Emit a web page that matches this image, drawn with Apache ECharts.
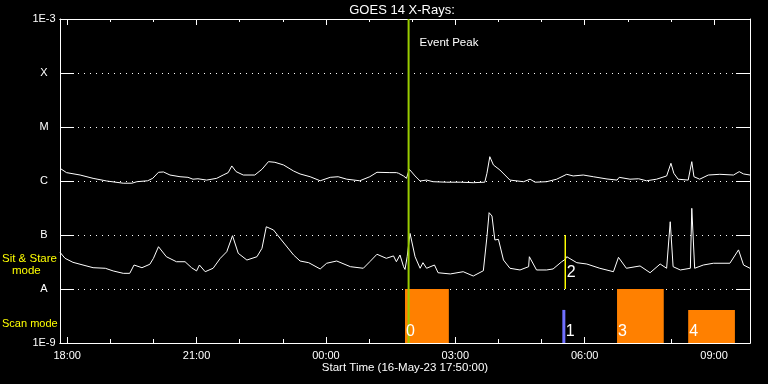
<!DOCTYPE html>
<html><head><meta charset="utf-8">
<script src="https://cdn.jsdelivr.net/npm/echarts@6/dist/echarts.min.js"></script>
<style>html,body{margin:0;padding:0;background:#000}#c{width:768px;height:384px}</style>
</head><body><div id="c"></div>
<script>
// ---- data ----
const chartTitle = 'GOES 14 X-Rays:';
const startLabel = 'Start Time (16-May-23 17:50:00)';
const axisStart = '17:50';
const axisEnd = '09:50';
const xLabelTimes = ['18:00','21:00','00:00','03:00','06:00','09:00'];
const xHourTicks = ['18:00','19:00','20:00','21:00','22:00','23:00','00:00','01:00','02:00','03:00','04:00','05:00','06:00','07:00','08:00','09:00'];
const yTickLabels = ['1E-9','A','B','C','M','X','1E-3'];
const yMinExp = -9, yMaxExp = -3;

// GOES long channel (x 1e-6 W/m^2)
const longTimes = ['17:50','17:59','18:18','18:36','18:55','19:18','19:30','19:37','19:52','19:59','20:07','20:14','20:23','20:37','20:48','20:55','21:02','21:14','21:28','21:37','21:44','21:49','21:55','22:05','22:21','22:31','22:40','22:49','23:01','23:15','23:24','23:38','23:52','00:06','00:17','00:29','00:47','01:01','01:11','01:29','01:38','01:41','01:48','01:52','01:56','02:04','02:11','02:20','02:29','02:48','03:07','03:25','03:41','03:44','03:48','03:53','04:02','04:16','04:35','04:44','04:51','05:07','05:21','05:35','05:44','05:58','06:12','06:31','06:45','06:48','07:03','07:15','07:26','07:40','07:54','08:00','08:04','08:10','08:24','08:29','08:32','08:40','08:52','09:08','09:27','09:35','09:41','09:50'];
const longFlux = [1.72,1.43,1.29,1.12,1.00,0.91,0.91,0.97,1.01,1.12,1.45,1.47,1.29,1.20,1.17,1.08,1.10,1.04,1.12,1.29,1.43,1.90,1.49,1.29,1.29,1.65,2.28,2.22,1.98,1.53,1.35,1.20,1.01,1.17,1.20,1.08,1.01,1.20,1.45,1.43,1.43,1.39,1.24,1.12,1.65,1.24,1.00,1.04,0.97,0.95,0.95,0.93,0.95,1.39,2.82,1.98,1.60,1.04,0.97,1.08,0.95,0.97,1.08,1.33,1.24,1.29,1.20,1.09,1.04,1.17,1.08,1.10,1.01,1.08,1.24,2.13,1.39,1.08,1.04,2.28,1.20,1.08,1.29,1.33,1.29,1.49,1.35,1.29];

// GOES short channel (x 1e-8 W/m^2)
const shortTimes = ['17:50','17:57','18:08','18:22','18:36','18:53','19:04','19:18','19:27','19:33','19:44','19:55','20:00','20:07','20:18','20:32','20:44','20:53','21:00','21:04','21:12','21:23','21:33','21:42','21:50','21:58','22:10','22:24','22:31','22:37','22:47','22:58','23:15','23:24','23:36','23:52','00:01','00:15','00:34','00:52','01:01','01:11','01:24','01:34','01:38','01:43','01:48','01:50','01:53','01:57','02:04','02:11','02:15','02:20','02:31','02:36','02:53','03:11','03:25','03:39','03:44','03:47','03:51','03:55','04:00','04:07','04:16','04:30','04:42','04:43','04:53','05:07','05:16','05:28','05:33','05:35','05:49','06:03','06:21','06:40','06:47','06:58','07:17','07:31','07:45','07:54','07:59','08:03','08:13','08:27','08:29','08:33','08:45','08:59','09:22','09:34','09:41','09:50'];
const shortFlux = [4.78,3.70,3.12,2.78,2.48,2.42,2.16,1.95,1.95,2.78,2.48,2.87,3.70,6.07,3.96,3.20,3.20,2.48,2.16,2.78,2.09,2.42,3.70,4.90,9.70,4.58,3.44,3.96,5.67,14.2,12.4,8.10,4.26,3.30,3.07,2.35,3.00,3.30,2.59,2.42,3.20,4.40,3.70,4.10,3.20,4.26,2.59,2.30,3.96,10.7,3.96,2.42,3.07,2.42,2.78,2.00,1.90,2.09,1.74,2.18,9.30,25.9,22.5,8.10,8.30,3.44,2.42,2.25,2.59,3.96,2.25,2.25,2.35,3.20,3.55,3.96,3.07,2.90,2.42,2.09,3.86,2.42,2.67,2.00,2.90,2.42,17.6,2.59,2.25,2.42,31.2,2.42,2.78,3.00,3.00,5.30,2.78,2.42];

const eventPeakTime = '01:55';
const eventPeakText = 'Event Peak';
const scanLabels = ['0','3','4'];
const scanStart = ['01:50','06:45','08:24'];
const scanEnd = ['02:51','07:50','09:29'];
const scanTop = [1e-8,1e-8,4.1e-9];
const markerLabels = ['1'];
const markerTimes = ['05:31'];
const markerTop = [4.1e-9];
const sitStareLabels = ['2'];
const sitStareTimes = ['05:33'];
const sitStareLow = [1e-8];
const sitStareHigh = [1e-7];
const sitStareText = ['Sit & Stare','mode'];
const scanText = 'Scan mode';

// ---- helpers ----
function toMin(s){const p=s.split(':').map(Number);let v=p[0]*60+p[1];if(v<12*60)v+=1440;return v;}
function fmt(v){v=((Math.round(v)%1440)+1440)%1440;const h=Math.floor(v/60),m=v%60;return String(h).padStart(2,'0')+':'+String(m).padStart(2,'0');}
const yMin = Math.pow(10,yMinExp), yMax = Math.pow(10,yMaxExp);
const FONT = '"Liberation Sans", Arial, sans-serif';
const xMin = toMin(axisStart), xMax = toMin(axisEnd);

const longData = longTimes.map((t,i)=>[toMin(t), longFlux[i]*1e-6]);
const shortData = shortTimes.map((t,i)=>[toMin(t), shortFlux[i]*1e-8]);

function xAx(pos, ticks, len, labels){
  return {type:'value', position:pos, min:xMin, max:xMax, gridIndex:0,
    axisLine:{show:true, lineStyle:{color:'#fff', width:1}},
    axisTick:{show:true, inside:true, length:len, customValues:ticks.map(toMin), lineStyle:{color:'#fff', width:1}},
    axisLabel:{show:!!labels, customValues: labels ? labels.map(toMin) : undefined, color:'#fff', fontFamily:FONT, fontSize:11, margin:7, formatter:(v)=>fmt(v)},
    splitLine:{show:false}};
}

const chart = echarts.init(document.getElementById('c'), null, {renderer:'canvas'});
chart.setOption({
  backgroundColor:'#000',
  animation:false,
  grid:{left:60, right:18, top:19, bottom:41, containLabel:false, outerBoundsMode:'none'},
  xAxis:[
    xAx('bottom', xLabelTimes, 6, xLabelTimes),
    xAx('bottom', xHourTicks, 4, null),
    xAx('top', xLabelTimes, 6, null),
    xAx('top', xHourTicks, 3, null)
  ],
  yAxis:[
    {type:'log', logBase:10, min:yMin, max:yMax, interval:1, position:'left',
      axisLine:{show:true, lineStyle:{color:'#fff'}},
      axisTick:{show:true, inside:true, length:14, lineStyle:{color:'#fff'}},
      axisLabel:{color:'#fff', fontFamily:FONT, fontSize:11, align:'center', margin:16, showMinLabel:true, showMaxLabel:true,
        formatter:(v)=>yTickLabels[Math.round(Math.log10(v))-yMinExp]},
      splitLine:{show:true, lineStyle:{color:'#fff', width:1, type:[1,5]}}},
    {type:'log', logBase:10, min:yMin, max:yMax, interval:1, position:'right',
      axisLine:{show:true, lineStyle:{color:'#fff'}},
      axisTick:{show:true, inside:true, length:14, lineStyle:{color:'#fff'}},
      axisLabel:{show:false}, splitLine:{show:false}}
  ],
  series:[
    {type:'custom', xAxisIndex:0, yAxisIndex:0, z:2, silent:true,
      data: scanLabels.map((l,i)=>[toMin(scanStart[i]), toMin(scanEnd[i]), scanTop[i]]),
      renderItem:(params, api)=>{
        const p0 = api.coord([api.value(0), yMin]);
        const p1 = api.coord([api.value(1), api.value(2)]);
        return {type:'rect', shape:{x:p0[0], y:p1[1], width:p1[0]-p0[0], height:p0[1]-p1[1]}, style:{fill:'#ff8000'}};
      }},
    {type:'line', xAxisIndex:0, yAxisIndex:0, z:3, data:longData, showSymbol:false, symbol:'none',
      lineStyle:{color:'#fff', width:1}, silent:true},
    {type:'line', xAxisIndex:0, yAxisIndex:0, z:3, data:shortData, showSymbol:false, symbol:'none',
      lineStyle:{color:'#fff', width:1}, silent:true},
    {type:'custom', xAxisIndex:0, yAxisIndex:0, z:4, silent:true,
      data: markerTimes.map((t,i)=>[toMin(t), yMin, markerTop[i], 0]).concat(sitStareTimes.map((t,i)=>[toMin(t), sitStareLow[i], sitStareHigh[i], 1])),
      renderItem:(params, api)=>{
        const a = api.coord([api.value(0), api.value(1)]);
        const b = api.coord([api.value(0), api.value(2)]);
        const kind = api.value(3);
        return {type:'line', shape:{x1:a[0], y1:a[1], x2:b[0], y2:b[1]},
          style:{stroke: kind===0 ? '#7070ff' : '#ffff00', lineWidth: kind===0 ? 3 : 1.5}};
      }},
    {type:'custom', xAxisIndex:0, yAxisIndex:0, z:5, silent:true,
      data:[[toMin(eventPeakTime)]],
      renderItem:(params, api)=>{
        const a = api.coord([api.value(0), yMin]);
        const b = api.coord([api.value(0), yMax]);
        return {type:'group', children:[
          {type:'line', shape:{x1:a[0], y1:a[1], x2:b[0], y2:b[1]}, style:{stroke:'#99cc00', lineWidth:2}},
          {type:'text', x:b[0]+11, y:b[1]+24, style:{text:eventPeakText, fill:'#fff', font:'11.5px '+FONT, align:'left', verticalAlign:'middle'}}
        ]};
      }},
    {type:'custom', xAxisIndex:0, yAxisIndex:0, z:6, silent:true,
      data: scanLabels.map((l,i)=>[toMin(scanStart[i]), yMin, 1, 0])
        .concat(markerLabels.map((l,i)=>[toMin(markerTimes[i]), yMin, 2, 1]))
        .concat(sitStareLabels.map((l,i)=>[toMin(sitStareTimes[i]), sitStareLow[i], 1.5, 2])),
      renderItem:(params, api)=>{
        const idx = params.dataIndex;
        const txt = idx < scanLabels.length ? scanLabels[idx] : (idx < scanLabels.length+markerLabels.length ? markerLabels[idx-scanLabels.length] : sitStareLabels[idx-scanLabels.length-markerLabels.length]);
        const p = api.coord([api.value(0), api.value(1)]);
        const kind = api.value(3);
        const dy = kind===2 ? -16.5 : -11;
        return {type:'text', x:p[0]+api.value(2), y:p[1]+dy, style:{text:txt, fill:'#fff', font:'16px '+FONT, align:'left', verticalAlign:'middle'}};
      }}
  ],
  graphic:[
    {type:'text', x:402, y:10, style:{text:chartTitle, fill:'#fff', font:'13px '+FONT, align:'center', verticalAlign:'middle'}, z:100},
    {type:'text', x:405, y:368, style:{text:startLabel, fill:'#fff', font:'11.5px '+FONT, align:'center', verticalAlign:'middle'}, z:100},
    {type:'text', x:2, y:258.5, style:{text:sitStareText[0], fill:'#ffff00', font:'11.5px '+FONT, align:'left', verticalAlign:'middle'}, z:100},
    {type:'text', x:12, y:271, style:{text:sitStareText[1], fill:'#ffff00', font:'11.5px '+FONT, align:'left', verticalAlign:'middle'}, z:100},
    {type:'text', x:2, y:324, style:{text:scanText, fill:'#ffff00', font:'11px '+FONT, align:'left', verticalAlign:'middle'}, z:100}
  ]
});
</script>
</body></html>
